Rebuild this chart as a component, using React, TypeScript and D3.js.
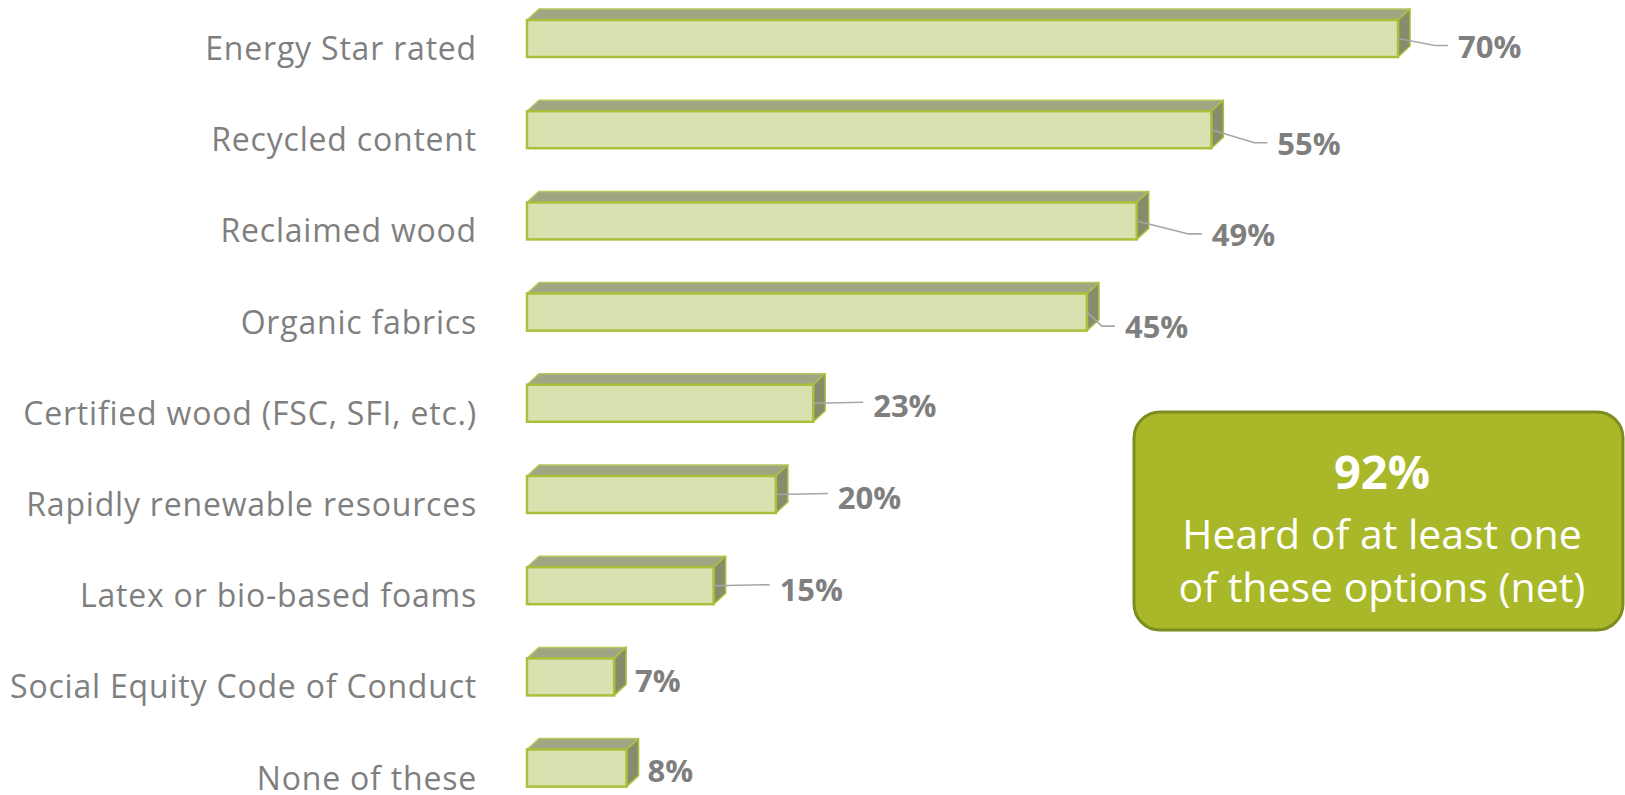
import React from "react";
import * as d3 from "d3";

const categories = [
  "Energy Star rated",
  "Recycled content",
  "Reclaimed wood",
  "Organic fabrics",
  "Certified wood (FSC, SFI, etc.)",
  "Rapidly renewable resources",
  "Latex or bio-based foams",
  "Social Equity Code of Conduct",
  "None of these",
];
const values = [70, 55, 49, 45, 23, 20, 15, 7, 8];
const netValue = 92;
const netLines = ["Heard of at least one", "of these options (net)"];

// layout of value labels (offset from bar front end / center), not data
const labelDx = [60, 66, 75, 38, 60, 62, 66, 21, 21];
const labelDy = [7, 13, 13, 14, 2, 3, 3, 3, 2];
const hasLeader = [true, true, true, true, true, true, true, false, false];

const W = 1625;
const H = 795;
const FONT = "'Open Sans', 'DejaVu Sans', sans-serif";

export default function App() {
  const x = d3.scaleLinear().domain([0, 70]).range([527, 1398]);
  const y = d3
    .scaleBand<string>()
    .domain(categories)
    .range([20, 786.6])
    .paddingInner(0.594)
    .paddingOuter(0);
  const bh = y.bandwidth();
  const dx = 12;
  const dy = 11;

  return (
    <svg
      width={W}
      height={H}
      style={{ position: "absolute", left: 0, top: 0, background: "#fff" }}
      fontFamily={FONT}
    >
      {categories.map((c, i) => {
        const v = values[i];
        const x0 = x(0);
        const x1 = x(v);
        const y0 = y(c)!;
        const y1 = y0 + bh;
        const cy = y0 + bh / 2;
        const lx = x1 + labelDx[i];
        const ly = cy + labelDy[i];
        const top = `${x0},${y0} ${x0 + dx},${y0 - dy} ${x1 + dx},${y0 - dy} ${x1},${y0}`;
        const side = `${x1},${y0} ${x1 + dx},${y0 - dy} ${x1 + dx},${y1 - dy} ${x1},${y1}`;
        let leader: string | null = null;
        if (hasLeader[i]) {
          if (Math.abs(ly - cy) > 6) {
            leader = `${x1},${cy} ${lx - 23},${ly} ${lx - 10},${ly}`;
          } else {
            leader = `${x1},${cy} ${lx - 10},${cy - 1}`;
          }
        }
        return (
          <g key={c}>
            <text
              x={477}
              y={cy + 9}
              textAnchor="end"
              dominantBaseline="central"
              fontSize={32}
              letterSpacing={0.8}
              fill="#7f7f7f"
            >
              {c}
            </text>
            <polygon points={top} fill="#a0a684" stroke="#b3c95a" strokeWidth={1.5} strokeLinejoin="round" />
            <polygon points={side} fill="#878d6c" stroke="#a9c13a" strokeWidth={1.5} strokeLinejoin="round" />
            <rect
              x={x0}
              y={y0}
              width={x1 - x0}
              height={bh}
              fill="#d9e1b0"
              stroke="#a9c13a"
              strokeWidth={2.5}
            />
            {leader && (
              <polyline points={leader} fill="none" stroke="#a6a6a6" strokeWidth={1.6} />
            )}
            <text
              x={lx}
              y={ly}
              dominantBaseline="central"
              fontSize={31}
              fontWeight={700}
              fill="#7f7f7f"
            >
              {`${v}%`}
            </text>
          </g>
        );
      })}

      <rect
        x={1134}
        y={412}
        width={489}
        height={218}
        rx={26}
        ry={26}
        fill="#a8b828"
        stroke="#7d8d20"
        strokeWidth={3}
      />
      <text x={1382} y={489} textAnchor="middle" fontSize={47} fontWeight={700} fill="#fff">
        {`${netValue}%`}
      </text>
      <text x={1382} y={549} textAnchor="middle" fontSize={41} fill="#fff">
        {netLines[0]}
      </text>
      <text x={1382} y={602} textAnchor="middle" fontSize={41} fill="#fff">
        {netLines[1]}
      </text>
    </svg>
  );
}
